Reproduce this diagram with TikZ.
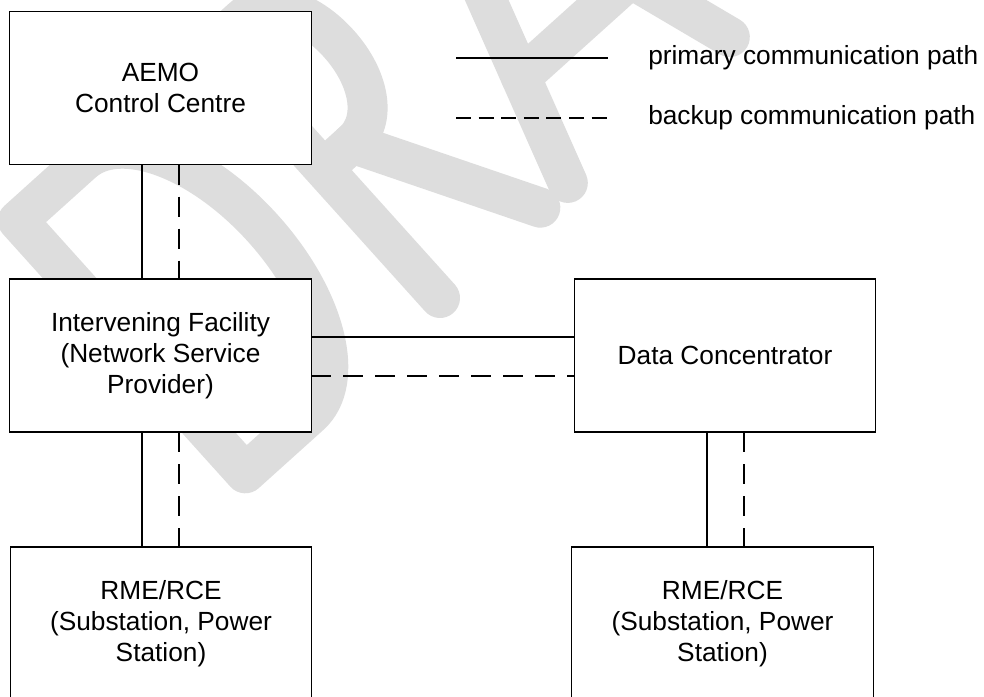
\documentclass[tikz,border=0pt]{standalone}
\usepackage{fontspec}
\setmainfont{Liberation Sans}
\definecolor{wmgray}{RGB}{221,221,221}
\tikzset{
  box/.style={draw=black, line width=0.8pt, fill=white, rectangle, inner sep=0pt, outer sep=0pt,
    minimum width=226pt, minimum height=114.75pt, align=center,
    font=\fontsize{19.7pt}{23.25pt}\selectfont},
  primary/.style={line width=1.5pt},
  backup/.style={line width=1.6pt, dash pattern=on 15pt off 9pt},
  legbackup/.style={line width=1.5pt, dash pattern=on 11.25pt off 5.7pt},
  legtext/.style={anchor=west, inner sep=0pt, font=\fontsize{19.7pt}{23.25pt}\selectfont},
  wm/.style={draw=wmgray, line width=30pt, line cap=round, line join=round},
}
\begin{document}
\begin{tikzpicture}[x=0.75pt, y=-0.75pt]
\useasboundingbox (0,0) rectangle (984,696);
\clip (0,0) rectangle (984,696);
\fill[white] (0,0) rectangle (984,696);
% watermark
\begin{scope}[shift={(440,298)}, rotate=42, x=0.75pt, y=0.75pt]
  \draw[wm] (-262,0) -- (-262,340) -- (-175,340) .. controls (-125,340) and (-85,264) .. (-85,170)
    .. controls (-85,76) and (-125,0) .. (-175,0) -- cycle;
  \draw[wm] (0,0) -- (0,340) -- (40,340) .. controls (73,340) and (95,303) .. (95,257)
    .. controls (95,211) and (73,174) .. (40,174) -- (0,174);
  \draw[wm] (38,174) -- (135,0);
  \draw[wm] (172,0) -- (283,340) -- (390,0);
  \draw[wm] (208,110) -- (355,110);
\end{scope}
% boxes
\node[box] (aemo) at (160.5,88) {AEMO\\Control Centre};
\node[box] (ifac) at (160.5,355.5) {Intervening Facility\\(Network Service\\Provider)};
\node[box] (dc) at (725,355.5) {Data Concentrator};
\node[box] (rmea) at (161,623.5) {RME/RCE\\(Substation, Power\\Station)};
\node[box] (rmeb) at (722.5,623.5) {RME/RCE\\(Substation, Power\\Station)};
% helper coordinates
\coordinate (vla) at (142,0);
\coordinate (vlb) at (179,0);
\coordinate (vra) at (707,0);
\coordinate (vrb) at (744,0);
\coordinate (ha) at (0,337);
\coordinate (hb) at (0,376);
% connectors
\draw[primary] (aemo.south -| vla) -- (ifac.north -| vla);
\draw[backup] (aemo.south -| vlb) -- (ifac.north -| vlb);
\draw[primary] (ifac.south -| vla) -- (rmea.north -| vla);
\draw[backup] (ifac.south -| vlb) -- (rmea.north -| vlb);
\draw[primary] (dc.south -| vra) -- (rmeb.north -| vra);
\draw[backup] (dc.south -| vrb) -- (rmeb.north -| vrb);
\draw[primary] (ifac.east |- ha) -- (dc.west |- ha);
\draw[backup] (ifac.east |- hb) -- (dc.west |- hb);
% legend
\coordinate (lpa) at (456,58);
\coordinate (lpb) at (608,58);
\coordinate (lba) at (456,118);
\coordinate (lbb) at (608,118);
\draw[primary] (lpa) -- (lpb);
\draw[legbackup] (lba) -- (lbb);
\node[legtext] (lpt) at (648,58) {primary communication path};
\node[legtext] (lbt) at (648,118) {backup communication path};
\end{tikzpicture}
\end{document}
